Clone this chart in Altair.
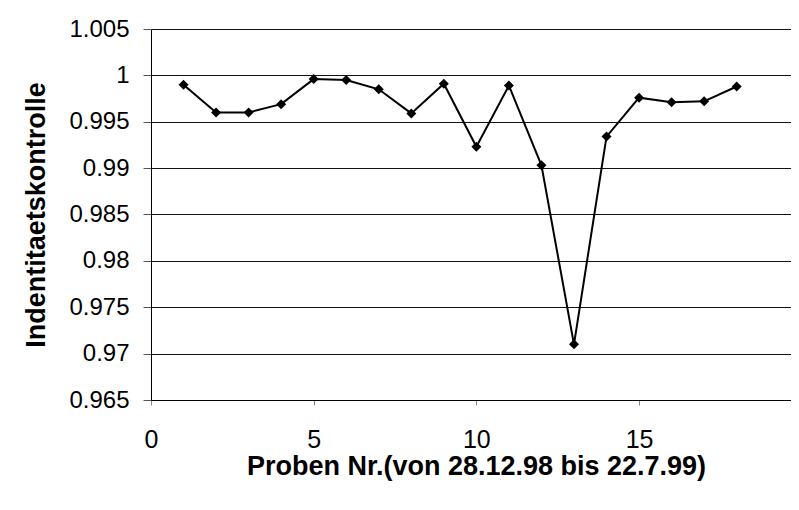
import altair as alt
import pandas as pd

proben = list(range(1, 19))
werte = [0.9990, 0.9960, 0.9960, 0.9969, 0.9996, 0.9995, 0.9985, 0.9959, 0.9991,
         0.9923, 0.9989, 0.9903, 0.9710, 0.9934, 0.9976, 0.9971, 0.9972, 0.9988]
x_ticks = [0, 5, 10, 15]
y_ticks = [0.965, 0.97, 0.975, 0.98, 0.985, 0.99, 0.995, 1.0, 1.005]

x_title = "Proben Nr.(von 28.12.98 bis 22.7.99)"
y_title = "Indentitaetskontrolle"

df = pd.DataFrame({"Probe": proben, "Wert": werte})

base = alt.Chart(df).encode(
    x=alt.X("Probe:Q",
            scale=alt.Scale(domain=[0, 19.67], nice=False, zero=False),
            axis=alt.Axis(values=x_ticks, title=x_title, grid=False,
                          labelFlush=False, labelFontSize=25,
                          tickSize=5, labelPadding=22, titlePadding=1,
                          titleX=325,
                          tickColor="#888888", domainColor="black")),
    y=alt.Y("Wert:Q",
            scale=alt.Scale(domain=[0.965, 1.005], nice=False, zero=False),
            axis=alt.Axis(values=y_ticks, format=".3~f", title=y_title, grid=True,
                          gridColor="#111111", gridOpacity=1, gridWidth=1,
                          tickSize=8, labelPadding=14, tickColor="#555555",
                          domainColor="black", titleX=-101)),
)

line = base.mark_line(color="black", strokeWidth=2)
pts = base.mark_point(shape="diamond", filled=True, color="black", size=100, opacity=1)

chart = (line + pts).properties(
    width=640, height=371,
    background="white",
    autosize=alt.AutoSizeParams(type="none"),
    padding={"left": 143, "top": 21, "right": 0, "bottom": 100},
).configure_axis(
    labelFont="Liberation Sans", labelFontSize=24, labelColor="black",
    titleFont="Liberation Sans", titleFontSize=27, titleFontWeight="bold",
    titleColor="black",
).configure_view(stroke=None)

chart.save("out.html", embed_options={"renderer": "svg", "actions": False})
